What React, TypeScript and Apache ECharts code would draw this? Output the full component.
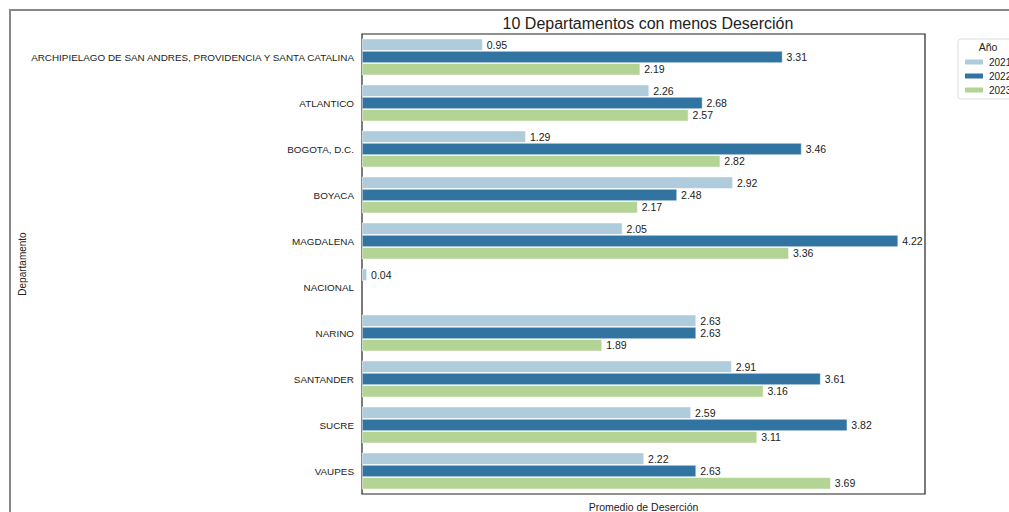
import React, { useEffect, useRef } from "react";
import * as echarts from "echarts";

const categories = [
  "ARCHIPIELAGO DE SAN ANDRES, PROVIDENCIA Y SANTA CATALINA",
  "ATLANTICO",
  "BOGOTA, D.C.",
  "BOYACA",
  "MAGDALENA",
  "NACIONAL",
  "NARINO",
  "SANTANDER",
  "SUCRE",
  "VAUPES",
];
const years = ["2021", "2022", "2023"];
const values2021 = [0.95, 2.26, 1.29, 2.92, 2.05, 0.04, 2.63, 2.91, 2.59, 2.22];
const values2022 = [3.31, 2.68, 3.46, 2.48, 4.22, null, 2.63, 3.61, 3.82, 2.63];
const values2023 = [2.19, 2.57, 2.82, 2.17, 3.36, null, 1.89, 3.16, 3.11, 3.69];
const colors = ["#aeccdb", "#3173a1", "#b3d495"];

const FONT = "Liberation Sans, Arial, sans-serif";

export default function App() {
  const ref = useRef<HTMLDivElement>(null);
  useEffect(() => {
    if (!ref.current) return;
    const chart = echarts.init(ref.current, null, { renderer: "svg" });
    const seriesData = [values2021, values2022, values2023];
    chart.setOption({
      animation: false,
      backgroundColor: "#ffffff",
      textStyle: { fontFamily: FONT },
      title: {
        text: "10 Departamentos con menos Deserción",
        left: 643,
        top: 10,
        textAlign: "center",
        textStyle: { fontSize: 16, fontWeight: "normal", color: "#222", fontFamily: FONT },
      },
      grid: {
        left: 362,
        right: 84,
        top: 34,
        bottom: 18,
        outerBoundsMode: "none",
        containLabel: false,
        show: true,
        borderColor: "#222",
        borderWidth: 1.2,
        backgroundColor: "#ffffff",
      },
      legend: {
        data: years,
        orient: "vertical",
        left: 958,
        top: 52,
        padding: 5,
        itemWidth: 20,
        itemHeight: 7,
        itemGap: 4,
        icon: "rect",
        textStyle: { fontSize: 10, color: "#222", fontFamily: FONT },
      },
      xAxis: {
        type: "value",
        min: 0,
        max: 4.431,
        axisLabel: { show: false },
        axisTick: { show: false },
        axisLine: { show: false },
        splitLine: { show: false },
        name: "Promedio de Deserción",
        nameLocation: "middle",
        nameGap: 7,
        nameTextStyle: { fontSize: 10.5, color: "#222", fontFamily: FONT, verticalAlign: "top" },
      },
      yAxis: {
        type: "category",
        data: categories,
        inverse: true,
        axisLine: { show: false },
        axisTick: { show: false },
        axisLabel: { fontSize: 9.9, color: "#222", margin: 8, fontFamily: FONT },
        name: "Departamento",
        nameLocation: "middle",
        nameRotate: 90,
        nameGap: 335,
        nameMoveOverlap: false,
        nameTextStyle: { fontSize: 10, color: "#222", fontFamily: FONT },
      },
      graphic: [
        {
          type: "rect",
          shape: { x: 10, y: 10, width: 1100, height: 600 },
          style: { fill: "none", stroke: "#888", lineWidth: 2 },
          silent: true,
          z: -1,
        },
        {
          type: "rect",
          shape: { x: 958, y: 39, width: 70, height: 60, r: 3 },
          style: { fill: "#fff", stroke: "#ddd", lineWidth: 1 },
          silent: true,
          z: 0,
        },
        {
          type: "text",
          x: 988,
          y: 47,
          style: { text: "Año", fontSize: 10.5, fill: "#222", align: "center", verticalAlign: "middle", fontFamily: FONT },
          silent: true,
          z: 1,
        },
      ],
      series: years.map((y, i) => ({
        name: y,
        type: "bar",
        data: seriesData[i],
        barGap: "0%",
        barCategoryGap: "20%",
        itemStyle: { color: colors[i], borderColor: "#fff", borderWidth: 0.6 },
        label: {
          show: true,
          position: "right",
          distance: 4,
          fontSize: 10.5,
          color: "#222",
          fontFamily: FONT,
          formatter: (p: any) => (p.value == null ? "" : Number(p.value).toFixed(2)),
        },
      })),
    });
    return () => chart.dispose();
  }, []);
  return (
    <div
      ref={ref}
      style={{ position: "fixed", left: 0, top: 0, width: 1009, height: 512 }}
    />
  );
}
